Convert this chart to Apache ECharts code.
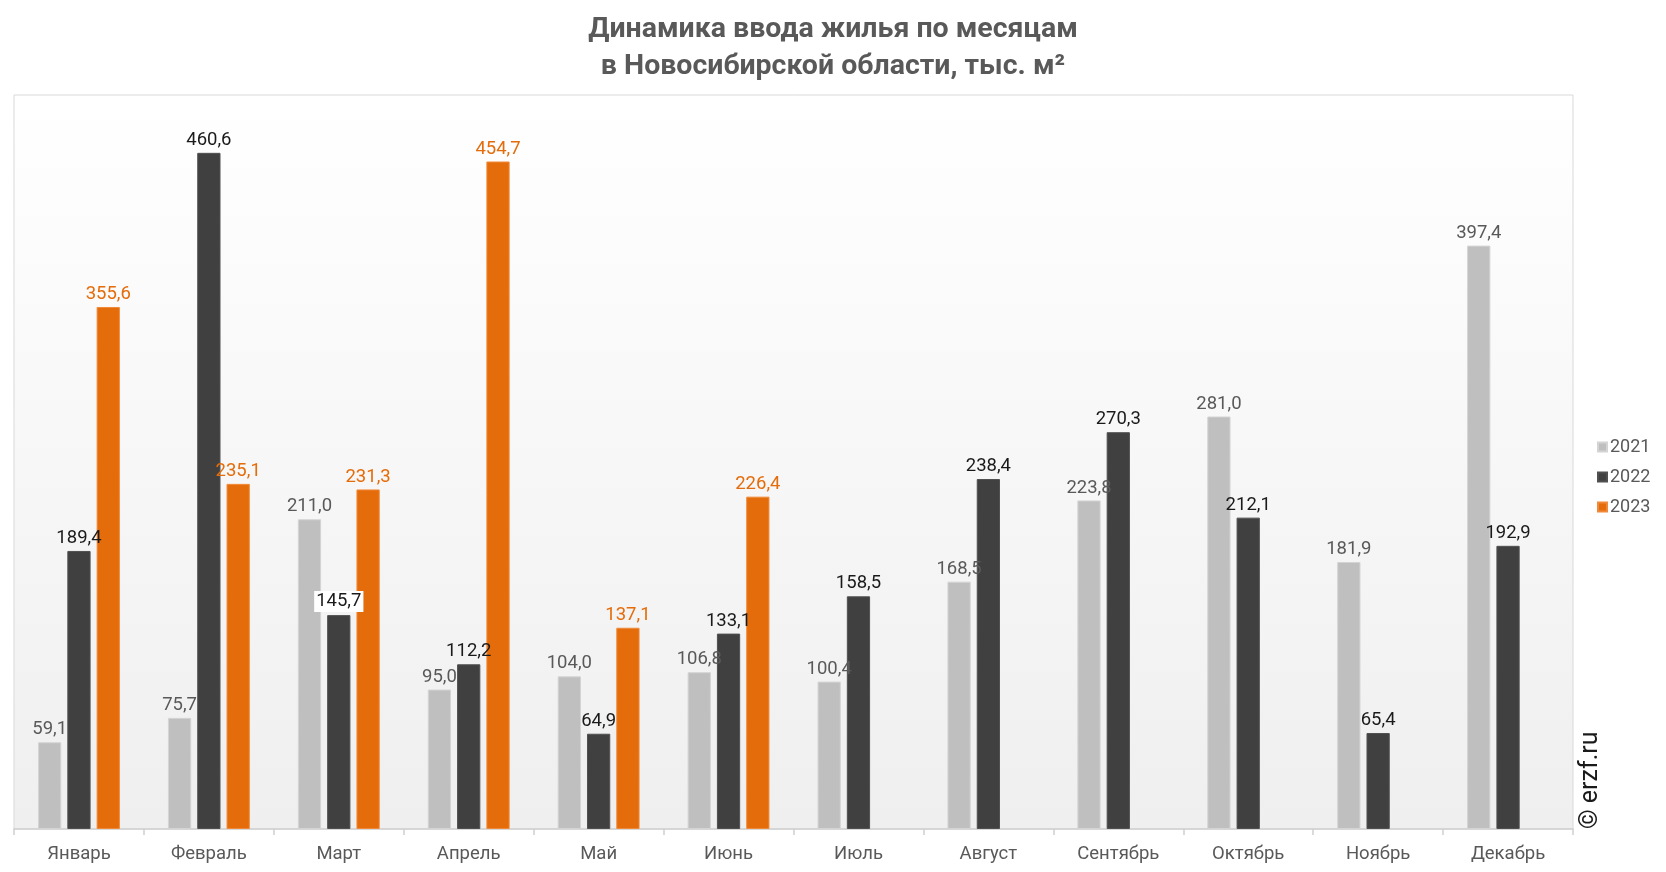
<!DOCTYPE html>
<html>
<head>
<meta charset="utf-8">
<script src="https://cdn.jsdelivr.net/npm/echarts@6/dist/echarts.min.js"></script>
<style>
html,body{margin:0;padding:0;background:#fff;}
#chart{width:1666px;height:872px;}
</style>
</head>
<body>
<div id="chart"></div>
<script>
const months = ['Январь','Февраль','Март','Апрель','Май','Июнь','Июль','Август','Сентябрь','Октябрь','Ноябрь','Декабрь'];
const v2021 = [59.1, 75.7, 211.0, 95.0, 104.0, 106.8, 100.4, 168.5, 223.8, 281.0, 181.9, 397.4];
const v2022 = [189.4, 460.6, 145.7, 112.2, 64.9, 133.1, 158.5, 238.4, 270.3, 212.1, 65.4, 192.9];
const v2023 = [355.6, 235.1, 231.3, 454.7, 137.1, 226.4, null, null, null, null, null, null];
const seriesNames = ['2021', '2022', '2023'];

const fmt = p => p.value == null ? '' : p.value.toFixed(1).replace('.', ',');

function makeSeries(name, data, color, border, labelColor) {
  return {
    name: name,
    type: 'bar',
    data: data.map((v, i) => {
      const item = { value: v };
      if (name === '2022' && i === 2) {
        item.label = { backgroundColor: '#ffffff', padding: [1, 2] };
      }
      return item;
    }),
    barGap: '26%',
    barCategoryGap: '37%',
    itemStyle: { color: color, borderColor: border, borderWidth: 1 },
    label: {
      show: true,
      position: 'top',
      distance: 3,
      formatter: fmt,
      color: labelColor,
      fontFamily: 'Roboto',
      fontSize: 18.5
    }
  };
}

const chart = echarts.init(document.getElementById('chart'));
chart.setOption({
  animation: false,
  backgroundColor: '#ffffff',
  title: {
    text: 'Динамика ввода жилья по месяцам\nв Новосибирской области, тыс. м²',
    left: 'center',
    top: 6,
    textStyle: {
      fontFamily: 'Roboto',
      fontWeight: 'bold',
      fontSize: 28.5,
      lineHeight: 37,
      color: '#595959'
    }
  },
  legend: {
    orient: 'vertical',
    left: 1592,
    top: 433,
    itemWidth: 9,
    itemHeight: 9,
    itemGap: 12,
    icon: 'rect',
    data: seriesNames,
    textStyle: { fontFamily: 'Roboto', fontSize: 18, color: '#595959', padding: [0, 0, 0, -2] }
  },
  grid: {
    left: 14,
    right: 93,
    top: 95,
    bottom: 43,
    show: true,
    borderColor: '#d9d9d9',
    borderWidth: 1,
    backgroundColor: {
      type: 'linear', x: 0, y: 0, x2: 0, y2: 1,
      colorStops: [{ offset: 0, color: '#ffffff' }, { offset: 1, color: '#efefef' }]
    }
  },
  xAxis: {
    type: 'category',
    data: months,
    axisLine: { lineStyle: { color: '#d0d0d0', width: 1.5 } },
    axisTick: { show: true, length: 6, lineStyle: { color: '#d0d0d0', width: 1.5 } },
    axisLabel: { fontFamily: 'Roboto', fontSize: 18.5, color: '#595959', margin: 16 }
  },
  yAxis: {
    type: 'value',
    min: 0,
    max: 500,
    show: false,
    splitLine: { show: false }
  },
  graphic: [{
    type: 'text',
    x: 1591,
    y: 829,
    rotation: Math.PI / 2,
    style: {
      text: '© erzf.ru',
      fontFamily: 'Roboto',
      fontSize: 25,
      fill: '#1a1a1a',
      textAlign: 'left',
      textVerticalAlign: 'middle'
    }
  }],
  series: [
    makeSeries('2021', v2021, '#bfbfbf', '#d4d4d4', '#595959'),
    makeSeries('2022', v2022, '#404040', '#505050', '#1a1a1a'),
    makeSeries('2023', v2023, '#e46c0a', '#f08a3a', '#e46c0a')
  ]
});
</script>
</body>
</html>
